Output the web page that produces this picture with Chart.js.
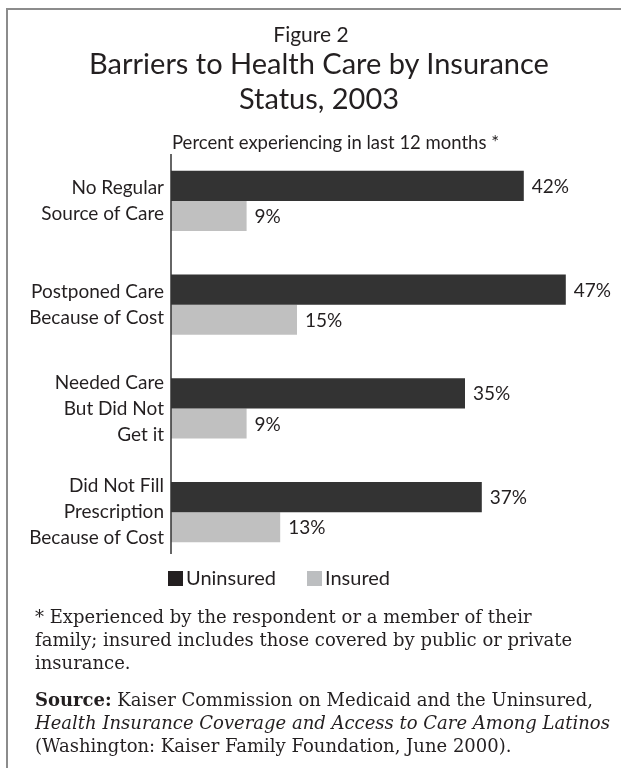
<!DOCTYPE html>
<html>
<head>
<meta charset="utf-8">
<script src="https://cdn.jsdelivr.net/npm/chart.js@4/dist/chart.umd.min.js"></script>
<style>
    body { margin: 0; background: #fff; }
    #page { position: relative; width: 621px; height: 768px; overflow: hidden; }
    #frame { position: absolute; left: 6px; top: 8px; width: 640px; height: 800px; border: 2px solid #8c8c8c; }
    #chart { position: absolute; left: 0; top: 0; }
    .txt { position: absolute; color: #231f20; white-space: nowrap; }
    .sans { font-family: Lato, "Noto Sans", sans-serif; }
    .serif { font-family: "DejaVu Serif", "Liberation Serif", serif; font-size: 18px; line-height: 23px; }
    #fig { left: 0; width: 622px; top: 21px; text-align: center; font-size: 21px; line-height: 26px; }
    #title { left: 0; width: 638px; top: 45px; text-align: center; font-size: 29px; line-height: 35px; }
    #sub { left: 172px; top: 131px; font-size: 18.5px; line-height: 22px; }
    #legend { left: 168px; top: 565px; font-size: 20px; line-height: 24px; }
    #legend span.box { display: inline-block; width: 15px; height: 15px; margin-right: 3px; vertical-align: -1px; }
    #legend span.item { margin-right: 31px; }
    #note { left: 35px; top: 605px; }
    #source { left: 35px; top: 688px; }
</style>
</head>
<body>
<div id="page">
    <div id="frame"></div>
    <canvas id="chart" width="621" height="768"></canvas>
    <div class="txt sans" id="fig">Figure 2</div>
    <div class="txt sans" id="title">Barriers to Health Care by Insurance<br>Status, 2003</div>
    <div class="txt sans" id="sub">Percent experiencing in last 12 months *</div>
    <div class="txt sans" id="legend"></div>
    <div class="txt serif" id="note">* Experienced by the respondent or a member of their<br>family; insured includes those covered by public or private<br>insurance.</div>
    <div class="txt serif" id="source"><b>Source:</b> Kaiser Commission on Medicaid and the Uninsured,<br><i>Health Insurance Coverage and Access to Care Among Latinos</i><br>(Washington: Kaiser Family Foundation, June 2000).</div>
</div>
<script>
var categories = [
    ['No Regular', 'Source of Care'],
    ['Postponed Care', 'Because of Cost'],
    ['Needed Care', 'But Did Not', 'Get it'],
    ['Did Not Fill', 'Prescription', 'Because of Cost']
];
var uninsured = [42, 47, 35, 37];
var insured = [9, 15, 9, 13];

var dark = '#333333';
var light = '#c0c0c0';

// percent labels just past the end of each bar
var valueLabels = {
    id: 'valueLabels',
    afterDatasetsDraw: function (chart) {
        var ctx = chart.ctx;
        ctx.save();
        ctx.font = '19px Lato, "Noto Sans", sans-serif';
        ctx.fillStyle = '#231f20';
        ctx.textAlign = 'left';
        ctx.textBaseline = 'middle';
        chart.data.datasets.forEach(function (ds, i) {
            chart.getDatasetMeta(i).data.forEach(function (bar, j) {
                ctx.fillText(ds.data[j] + '%', bar.x + 8, bar.y + 1);
            });
        });
        ctx.restore();
    }
};

// vertical axis rule, a little shorter than the plot area
var axisRule = {
    id: 'axisRule',
    afterDraw: function (chart) {
        var area = chart.chartArea;
        var ctx = chart.ctx;
        ctx.save();
        ctx.strokeStyle = '#333';
        ctx.lineWidth = 1.5;
        ctx.beginPath();
        ctx.moveTo(area.left, area.top + 5);
        ctx.lineTo(area.left, area.bottom - 10);
        ctx.stroke();
        ctx.restore();
    }
};

var chart = new Chart(document.getElementById('chart'), {
    type: 'bar',
    data: {
        labels: categories,
        datasets: [
            { label: 'Uninsured', data: uninsured, backgroundColor: dark, legendColor: '#231f20' },
            { label: 'Insured', data: insured, backgroundColor: light, legendColor: '#bcbec0' }
        ]
    },
    options: {
        indexAxis: 'y',
        responsive: false,
        animation: false,
        events: [],
        layout: { padding: { left: 0, top: 149, right: 30, bottom: 204 } },
        datasets: { bar: { categoryPercentage: 0.58, barPercentage: 1.0 } },
        scales: {
            x: { display: false, min: 0, max: 50 },
            y: {
                afterFit: function (scale) { scale.width = 171; },
                border: { display: false },
                grid: { display: false, drawTicks: false },
                ticks: {
                    padding: 7,
                    color: '#231f20',
                    font: { family: 'Lato, "Noto Sans", sans-serif', size: 19, lineHeight: '26px' }
                }
            }
        },
        plugins: {
            legend: { display: false },
            tooltip: { enabled: false }
        }
    },
    plugins: [valueLabels, axisRule]
});

var legendHtml = chart.data.datasets.map(function (ds) {
    return '<span class="item"><span class="box" style="background:' + ds.legendColor + '"></span>' + ds.label + '</span>';
}).join('');
document.getElementById('legend').innerHTML = legendHtml;
</script>
</body>
</html>
